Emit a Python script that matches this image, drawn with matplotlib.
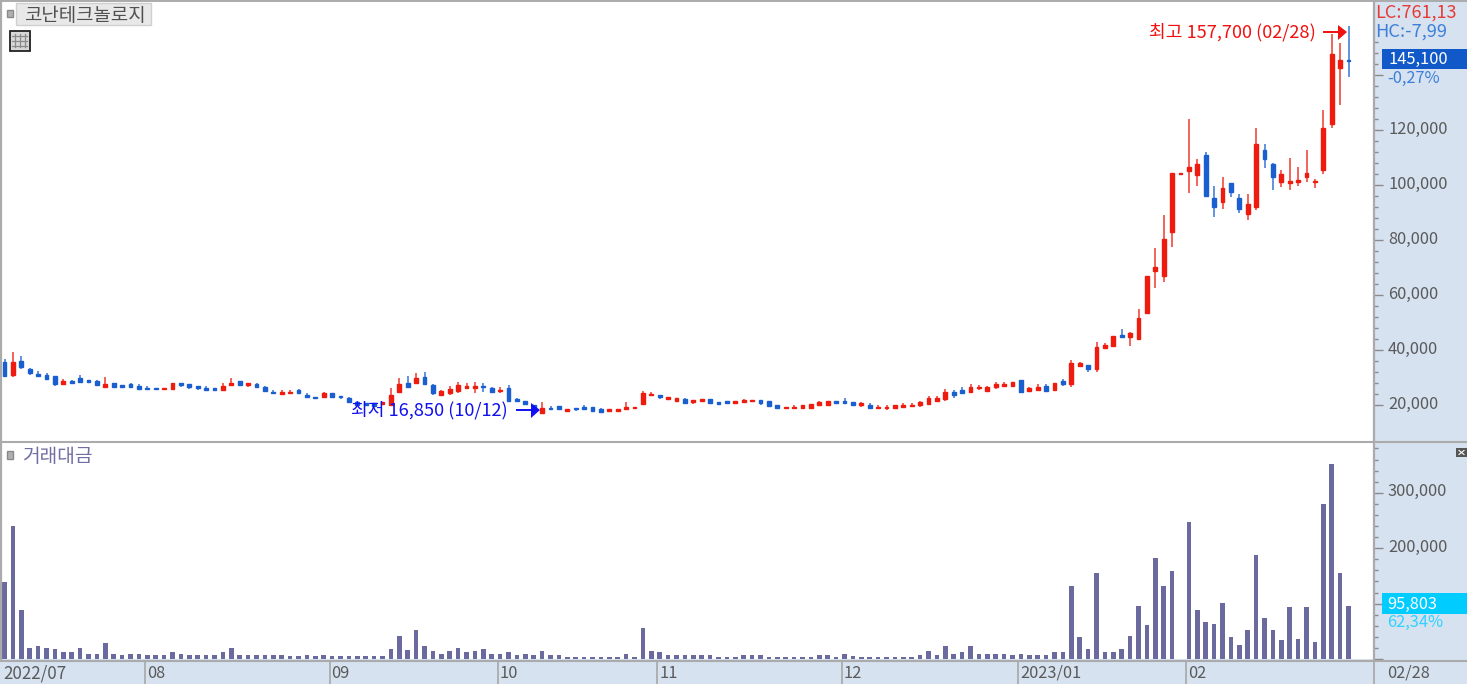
import matplotlib
matplotlib.use("Agg")
import matplotlib.pyplot as plt
from matplotlib.patches import Rectangle, Polygon
import numpy as np

plt.rcParams['font.family'] = ['Noto Sans CJK KR', 'DejaVu Sans']

opens = [35650,30900,36140,32970,31270,30900,30660,27620,28590,29680,
         29080,28590,26520,27980,27370,27490,26890,26280,26280,25910,
         25910,27980,27490,26890,26280,26280,25430,27250,28590,27250,
         27490,26400,24820,23840,24330,25430,23720,22990,22750,24210,
         23110,22630,21200,20830,20590,20470,19980,24730,28130,27890,
         30320,27160,23750,24240,25210,26070,26300,26910,26070,24970,
         26070,22050,21560,19980,17190,19010,19620,17800,19020,19380,
         19260,18410,17800,17800,18410,18900,20220,23520,23640,22180,
         21570,22060,21090,21570,22060,20970,21570,20600,21210,21570,
         21940,21570,19870,18770,18770,18900,18900,19870,19990,21570,
         21570,20970,19990,19870,18770,18770,18900,19380,19500,19870,
         20360,21570,22060,24860,25470,24740,26080,25220,26440,27050,
         27050,29240,24980,25470,27050,25350,28750,27760,34190,34550,
         33100,40730,41340,45460,44610,44000,53340,68610,66910,82790,
         104010,105090,103510,111030,95150,93700,100610,95150,89330,91880,
         112730,107510,101210,100730,101210,102790,100970,105450,122060,142660,145620]
highs = [36620,39420,37960,33460,32360,31510,30660,29320,29200,30780,
         29080,29080,30290,27980,27370,28100,27490,26890,26280,26280,
         28100,27980,27490,26890,26890,26280,28100,29810,28590,27980,
         28100,26890,25300,25300,25300,25910,24330,22990,24820,24210,
         23110,22990,21200,20830,20590,21200,26300,29710,30560,31780,
         31900,27650,25460,26910,28490,28130,28490,28130,26670,26430,
         27280,22660,21560,19980,20950,19620,19620,18530,19020,19990,
         19260,18900,18410,18530,20950,19260,25100,24860,23640,23030,
         22420,22420,21940,22060,22060,20970,21570,21570,22180,21940,
         21940,21570,19870,19260,19990,19870,20480,21570,21450,21570,
         22670,20970,21090,20600,19870,19870,19870,20600,20600,21450,
         23280,23280,25960,25470,26440,27660,27290,27050,28270,28270,
         28510,29240,26560,27660,27660,28140,29360,36250,35760,34550,
         42790,42430,44970,47770,46670,54790,66790,77210,89210,104490,
         104490,124120,109330,112120,99520,102790,100610,96850,96850,120850,
         114790,107880,105580,109940,106670,112730,102060,127390,154780,151510,157700]
lows = [30290,30290,32970,30900,30540,29080,27010,27130,27620,28230,
        28350,27130,26520,26520,26640,26640,25910,25910,25430,25430,
        25430,26520,25910,25430,25430,25430,25430,27250,27130,26400,
        26520,25060,24330,23840,24330,24330,22750,22020,22750,22750,
        22140,21050,19980,19860,19740,20470,19980,24240,26670,27650,
        27530,23750,23270,23750,24480,26070,24240,24850,24480,24240,
        21200,20950,20220,19370,16850,18520,18410,17310,17800,18170,
        17920,17550,17800,17800,18410,18900,20220,23520,22060,22180,
        21570,20600,20360,20970,20600,20480,20600,20600,21210,20970,
        19990,19500,18900,18770,18770,18900,18900,19500,19990,20600,
        20600,19990,19380,18900,18770,18290,18900,18770,19500,19380,
        19870,21570,21570,22670,24250,24250,25470,24740,25960,26440,
        27050,24860,24980,25470,24740,25350,27050,26670,33700,32010,
        32010,40730,41340,44610,41340,44000,53340,62550,64730,77340,
        104010,96970,99640,95880,88250,91400,95760,89700,87150,90910,
        106060,98060,99150,98060,99640,101210,99030,104000,120850,129090,139390]
closes = [30540,35650,33700,31510,30540,29320,27490,28710,28100,28230,
          28350,27130,27620,26520,26640,26640,25910,25910,25910,26280,
          28100,27250,26520,26030,25430,25430,27010,28100,27130,27980,
          26520,25060,24330,24820,24820,24330,22750,22630,24210,22750,
          22750,21050,19980,19860,19740,21200,23630,27650,26670,29840,
          27530,24240,24970,25940,27160,26910,26910,26420,24850,25460,
          21560,21560,20220,19370,18770,18520,18410,18530,18530,18650,
          17920,17550,18410,18530,19260,19260,24490,23880,22790,23030,
          22420,20600,21940,22060,20600,20480,20600,21570,21700,21940,
          20600,19500,18900,19260,19380,19870,20480,21210,21450,20600,
          20600,19990,20600,18900,19380,19380,19870,20110,19870,20970,
          22550,22550,24860,23520,24250,26560,26690,26560,27660,27660,
          28510,24860,26080,26690,25100,28140,27540,35160,35280,33100,
          41100,41700,44970,44610,46070,51520,66790,70190,80490,104490,
          104490,106670,107640,95880,92000,99030,97450,91400,92970,114910,
          109330,102910,104000,101330,101820,104480,101330,120850,147630,145330,145100]
volumes = [139200,239400,88200,20400,23400,20400,18000,12600,12600,20400,
           9600,9600,28800,9600,7200,9600,9600,7200,7200,7200,
           12600,9600,7200,7200,7200,7200,12600,20400,7200,7200,
           7200,7200,7200,7200,4800,4800,7200,4800,7200,4800,
           4800,4800,4800,4800,4800,4800,18000,41400,16800,52800,
           22800,15000,9000,15000,19800,12600,15000,17400,9600,9600,
           12000,7200,9000,6600,14400,6600,6600,3600,3600,3600,
           3600,3600,3600,3600,9000,3600,55200,14400,12000,6600,
           6600,6600,6600,6600,6600,3600,3600,3600,6600,6600,
           6600,3600,3600,3600,3600,3600,3600,6600,6600,3600,
           9000,4800,3600,3600,3600,3600,3600,3600,3600,6600,
           14400,6600,23400,9600,12000,23400,9600,9600,9600,9600,
           7200,9600,7200,7200,7200,12600,12600,131400,39600,18000,
           155400,12600,12600,18000,42000,96000,61200,182400,131400,158400,
           0,247200,88200,66600,63600,101400,39600,25800,52800,187800,
           74400,52800,34200,93600,36600,93600,31200,279600,352800,155400,95803]

month_starts = [0, 17, 39, 59, 78, 100, 121, 141]
month_labels = ['2022/07', '08', '09', '10', '11', '12', '2023/01', '02']
end_label = '02/28'
price_ticks = [20000, 40000, 60000, 80000, 100000, 120000]
price_hidden_tick = 140000
price_minor = [v for v in range(24000, 156000, 4000) if v % 20000]
vol_ticks = [100000, 200000, 300000]
vol_minor = [v for v in range(20000, 400000, 20000) if v % 100000]
title = '코난테크놀로지'
sub_title = '거래대금'
hi_text = '최고 157,700 (02/28)'
lo_text = '최저 16,850 (10/12)'
last_price = '145,100'
last_pct = '-0,27%'
last_vol = '95,803'
vol_pct = '62,34%'
lc_text = 'LC:761,13'
hc_text = 'HC:-7,99'

W, H = 1467, 684
RED, BLUE = '#ee1c0e', '#1a5fd0'
PANEL = '#d6e2f0'
GREY = '#ababab'
TXT = '#5a5a5a'
VOL = '#6a6a9e'

fig = plt.figure(figsize=(W / 100, H / 100), dpi=100, facecolor=PANEL)


def box(x0, y0, x1, y1):
    return [x0 / W, 1 - y1 / H, (x1 - x0) / W, (y1 - y0) / H]


def px2x(px):
    return (px - 4.5) / 8.4


ax = fig.add_axes(box(1, 1, 1374, 441), facecolor='white')
ax2 = fig.add_axes(box(1, 442, 1374, 659), facecolor='white')

x = np.arange(len(closes))
o, h, l, c = map(np.array, (opens, highs, lows, closes))
colors = [RED if cc >= oo else BLUE for oo, cc in zip(o, c)]
ax.vlines(x, l, h, colors=colors, linewidth=1.2, alpha=0.8, zorder=2)
ax.bar(x, np.abs(c - o), bottom=np.minimum(o, c), width=0.46, color=colors,
       edgecolor=colors, linewidth=1.0, zorder=3)
ax.set_xlim(px2x(1), px2x(1374))
ax.set_ylim(100000 + (185 - 441) * 363.6, 100000 + (185 - 1) * 363.6)

ax2.bar(x, volumes, width=0.55, color=VOL, linewidth=0)
ax2.set_xlim(px2x(1), px2x(1374))
ax2.set_ylim(0, (659 - 442) / 55.4 * 100000)

for a, major, minor in ((ax, price_ticks + [price_hidden_tick], price_minor),
                        (ax2, [0] + vol_ticks, vol_minor)):
    for s in a.spines.values():
        s.set_visible(False)
    a.set_xticks([])
    a.yaxis.tick_right()
    a.set_yticks(major)
    a.set_yticks(minor, minor=True)
    a.set_yticklabels([])
    a.tick_params(axis='y', which='major', length=6.5, width=1, color='#8a8a8a', direction='out')
    a.tick_params(axis='y', which='minor', length=2.6, width=1, color='#8a8a8a', direction='out')

FS = 11.8
for v in price_ticks:
    ax.annotate(f'{v:,}', xy=(1, v), xycoords=ax.get_yaxis_transform(), xytext=(14, 1),
                textcoords='offset pixels', fontsize=FS, color=TXT, va='center', ha='left',
                annotation_clip=False)
for v in vol_ticks:
    ax2.annotate(f'{v:,}', xy=(1, v), xycoords=ax2.get_yaxis_transform(), xytext=(14, 1),
                 textcoords='offset pixels', fontsize=FS, color=TXT, va='center', ha='left',
                 annotation_clip=False)

# overlay in pixel coordinates for chrome
ov = fig.add_axes([0, 0, 1, 1], facecolor='none', zorder=10)
ov.set_xlim(0, W)
ov.set_ylim(H, 0)
ov.axis('off')

for xs, ys, lw in (((0, W), (0.5, 0.5), 1.4), ((1, 1), (0, 660), 1.6),
                   ((1374, 1374), (0, 660), 1.6), ((0, W), (441.5, 441.5), 1.5),
                   ((0, W), (660.5, 660.5), 1.5)):
    ov.plot(xs, ys, color=GREY, lw=lw, solid_capstyle='butt')

# month separators in the bottom strip
for i, lab in zip(month_starts[1:], month_labels[1:]):
    px = 4.5 + 8.4 * (i - 0.3)
    ov.plot((px, px), (661, H), color=GREY, lw=1.3, solid_capstyle='butt')
    ov.text(px + 2, 673, lab, fontsize=FS, color=TXT, va='center', ha='left')
ov.text(3, 673, month_labels[0], fontsize=12.2, color=TXT, va='center', ha='left')
ov.plot((1374, 1374), (661, H), color=GREY, lw=1.3, solid_capstyle='butt')
ov.text(1387, 673, end_label, fontsize=FS, color=TXT, va='center', ha='left')

# title chips
ov.add_patch(Rectangle((7, 10), 6, 7, fc='#b0b0b0', ec='#8a8a8a', lw=1))
ov.add_patch(Rectangle((16, 3), 135, 22, fc='#e8e8e8', ec='#d0d0d0', lw=1))
ov.text(85, 15.5, title, fontsize=13.6, color='#505050', va='center', ha='center')
ov.add_patch(Rectangle((7, 451), 6, 8, fc='#b0b0b0', ec='#8a8a8a', lw=1))
ov.text(22, 456.5, sub_title, fontsize=13.8, color='#6f6fa3', va='center', ha='left')

# table icon
ov.add_patch(Rectangle((9.5, 30.5), 20, 20, fc='#d8d8d8', ec='#222222', lw=1.3))
for gx in (15, 20, 25):
    ov.plot((gx, gx), (34, 47), color='#8a8a8a', lw=0.9)
for gy in (36, 41, 46):
    ov.plot((12, 27), (gy, gy), color='#8a8a8a', lw=0.9)

# close button
ov.add_patch(Rectangle((1456, 448), 11, 9, fc='#555555', ec='none'))
ov.plot((1459, 1464), (450.5, 454.5), color='white', lw=0.8)
ov.plot((1459, 1464), (454.5, 450.5), color='white', lw=0.8)

# right-panel readouts
ov.text(1375, 13, lc_text, fontsize=13, color='#e83a34', va='center', ha='left')
ov.text(1375, 32, hc_text, fontsize=13.2, color='#3d7fd8', va='center', ha='left')
ov.add_patch(Rectangle((1382, 49), 85, 20, fc='#1158c8', ec='none'))
ov.text(1388, 59.5, last_price, fontsize=FS, color='white', va='center', ha='left')
ov.text(1387, 78, last_pct, fontsize=FS, color='#3d7fd8', va='center', ha='left')
ov.add_patch(Rectangle((1382, 593), 85, 21, fc='#00ccff', ec='none'))
ov.text(1387, 604, last_vol, fontsize=FS, color='white', va='center', ha='left')
ov.text(1387, 622, vol_pct, fontsize=FS, color='#2fd2ff', va='center', ha='left')

# extreme markers
ov.text(1149, 32, hi_text, fontsize=13.1, color='#f01010', va='center', ha='left')
ov.plot((1324, 1339), (32, 32), color='#f01010', lw=1.4)
ov.add_patch(Polygon([(1338, 25), (1347, 32), (1338, 40)], fc='#f01010', ec='none'))
ov.text(351, 410, lo_text, fontsize=13.1, color='#1010f0', va='center', ha='left')
ov.plot((517, 532), (410, 410), color='#1010f0', lw=1.4)
ov.add_patch(Polygon([(531, 403), (540, 410), (531, 418)], fc='#1010f0', ec='none'))

fig.savefig('out.png', dpi=100, facecolor=fig.get_facecolor())
